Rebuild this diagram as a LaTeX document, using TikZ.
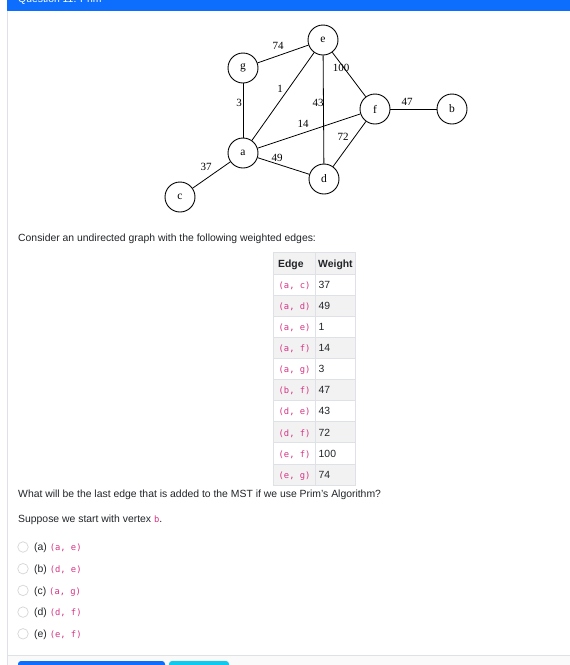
\documentclass[tikz,border=0pt]{standalone}
\usepackage{fontspec}
\setmainfont{Liberation Sans}
\setmonofont{DejaVu Sans Mono}
\newfontfamily\graphfont{Liberation Serif}
\usepackage{tikz}
\definecolor{barblue}{HTML}{0D6EFD}
\definecolor{btncyan}{HTML}{0DCAF0}
\definecolor{codepink}{HTML}{D63384}
\definecolor{rulegray}{HTML}{DEE2E6}
\definecolor{stripegray}{HTML}{F2F2F2}
\definecolor{footergray}{HTML}{FAFAFA}
\definecolor{bodytext}{HTML}{212529}
\newcommand{\bodysize}{\fontsize{10.4}{12.5}\selectfont}
\newcommand{\codetxt}[1]{{\ttfamily\fontsize{8.8}{10}\selectfont\color{codepink}#1}}

\begin{document}
\begin{tikzpicture}
    [x=1pt,y=-1pt,
vertex/.style={circle,draw,line width=0.9pt,minimum size=30pt,inner sep=0pt,
  font=\graphfont\fontsize{11.5}{11.5}\selectfont},
weight/.style={inner sep=0pt,font=\graphfont\fontsize{11}{11}\selectfont},
txt/.style={anchor=base west,inner sep=0pt,text=bodytext,font=\bodysize},
cell/.style={draw=rulegray,line width=0.8pt},
radio/.style={circle,draw=black!16,line width=0.7pt,minimum size=10.5pt,inner sep=0pt}
]
  \fill[white] (0,0) rectangle (570,665);
  \useasboundingbox (0,0) rectangle (570,665);

  % card header and frame
  \fill[barblue] (7,0) rectangle (570,10.7);
  \node[txt,text=white] (qtitle) at (18,2.2) {Question 11: Prim};
  \fill[footergray] (7.5,655) rectangle (570,665);
  \draw[rulegray,line width=1pt] (7,10.7) -- (7,665);
  \draw[rulegray,line width=0.8pt] (7,655) -- (570,655);
  \fill[barblue,rounded corners=3pt] (18,661) rectangle (165,672);
  \fill[btncyan,rounded corners=3pt] (169,661) rectangle (229,672);

  % graph
  \node[vertex] (e) at (323,40) {e};
  \node[vertex] (g) at (243,68) {g};
  \node[vertex] (f) at (375,109) {f};
  \node[vertex] (b) at (452,109) {b};
  \node[vertex] (a) at (243,153) {a};
  \node[vertex] (d) at (324,179) {d};
  \node[vertex] (c) at (180,197) {c};
  \foreach \u/\v in {a/c,a/d,a/e,a/f,a/g,b/f,d/e,d/f,e/f,e/g}
    \draw[line width=0.8pt] (\u) -- (\v);
  \foreach \n/\x/\y in {37/206/167,49/277/158,1/280/89,14/303/124,3/239/103,
                        47/407/102,43/318/103,72/343/137,100/341/68,74/278/46}
    \node[weight] (w\n) at (\x,\y) {\n};

  \node[txt] (intro) at (18,241) {Consider an undirected graph with the following weighted edges:};

  % edge table
  \fill[stripegray] (273,252) rectangle (355,274);
  \draw[cell] (273,252) rectangle (315,274);
  \draw[cell] (315,252) rectangle (355,274);
  \node[txt,font=\bodysize\bfseries] (hedge) at (278,267) {Edge};
  \node[txt,font=\bodysize\bfseries] (hweight) at (318,267) {Weight};
  \foreach \u/\v/\w [count=\i] in {a/c/37,a/d/49,a/e/1,a/f/14,a/g/3,
                                   b/f/47,d/e/43,d/f/72,e/f/100,e/g/74}{
    \pgfmathsetmacro\rowtop{274+21.1*(\i-1)}
    \ifodd\i\else
      \fill[stripegray] (273,\rowtop) rectangle (355,\rowtop+21.1);
    \fi
    \draw[cell] (273,\rowtop) rectangle (315,\rowtop+21.1);
    \draw[cell] (315,\rowtop) rectangle (355,\rowtop+21.1);
    \node[txt] (edge-\i) at (278.5,\rowtop+14.3) {\codetxt{(\u, \v)}};
    \node[txt] (wt-\i) at (318.5,\rowtop+14.3) {\w};
  }

  % question
  \node[txt] (question) at (18,497) {What will be the last edge that is added to the MST if we use Prim's Algorithm?};
  \node[txt] (start) at (18,522) {Suppose we start with vertex \codetxt{b}.};
  \foreach \lab/\u/\v [count=\i] in {a/a/e,b/d/e,c/a/g,d/d/f,e/e/f}{
    \pgfmathsetmacro\rowmid{547+21.7*(\i-1)}
    \node[radio] (radio-\i) at (23,\rowmid) {};
    \node[txt] (opt-\i) at (34,\rowmid+3.7) {(\lab) \codetxt{(\u, \v)}};
  }
\end{tikzpicture}
\end{document}
